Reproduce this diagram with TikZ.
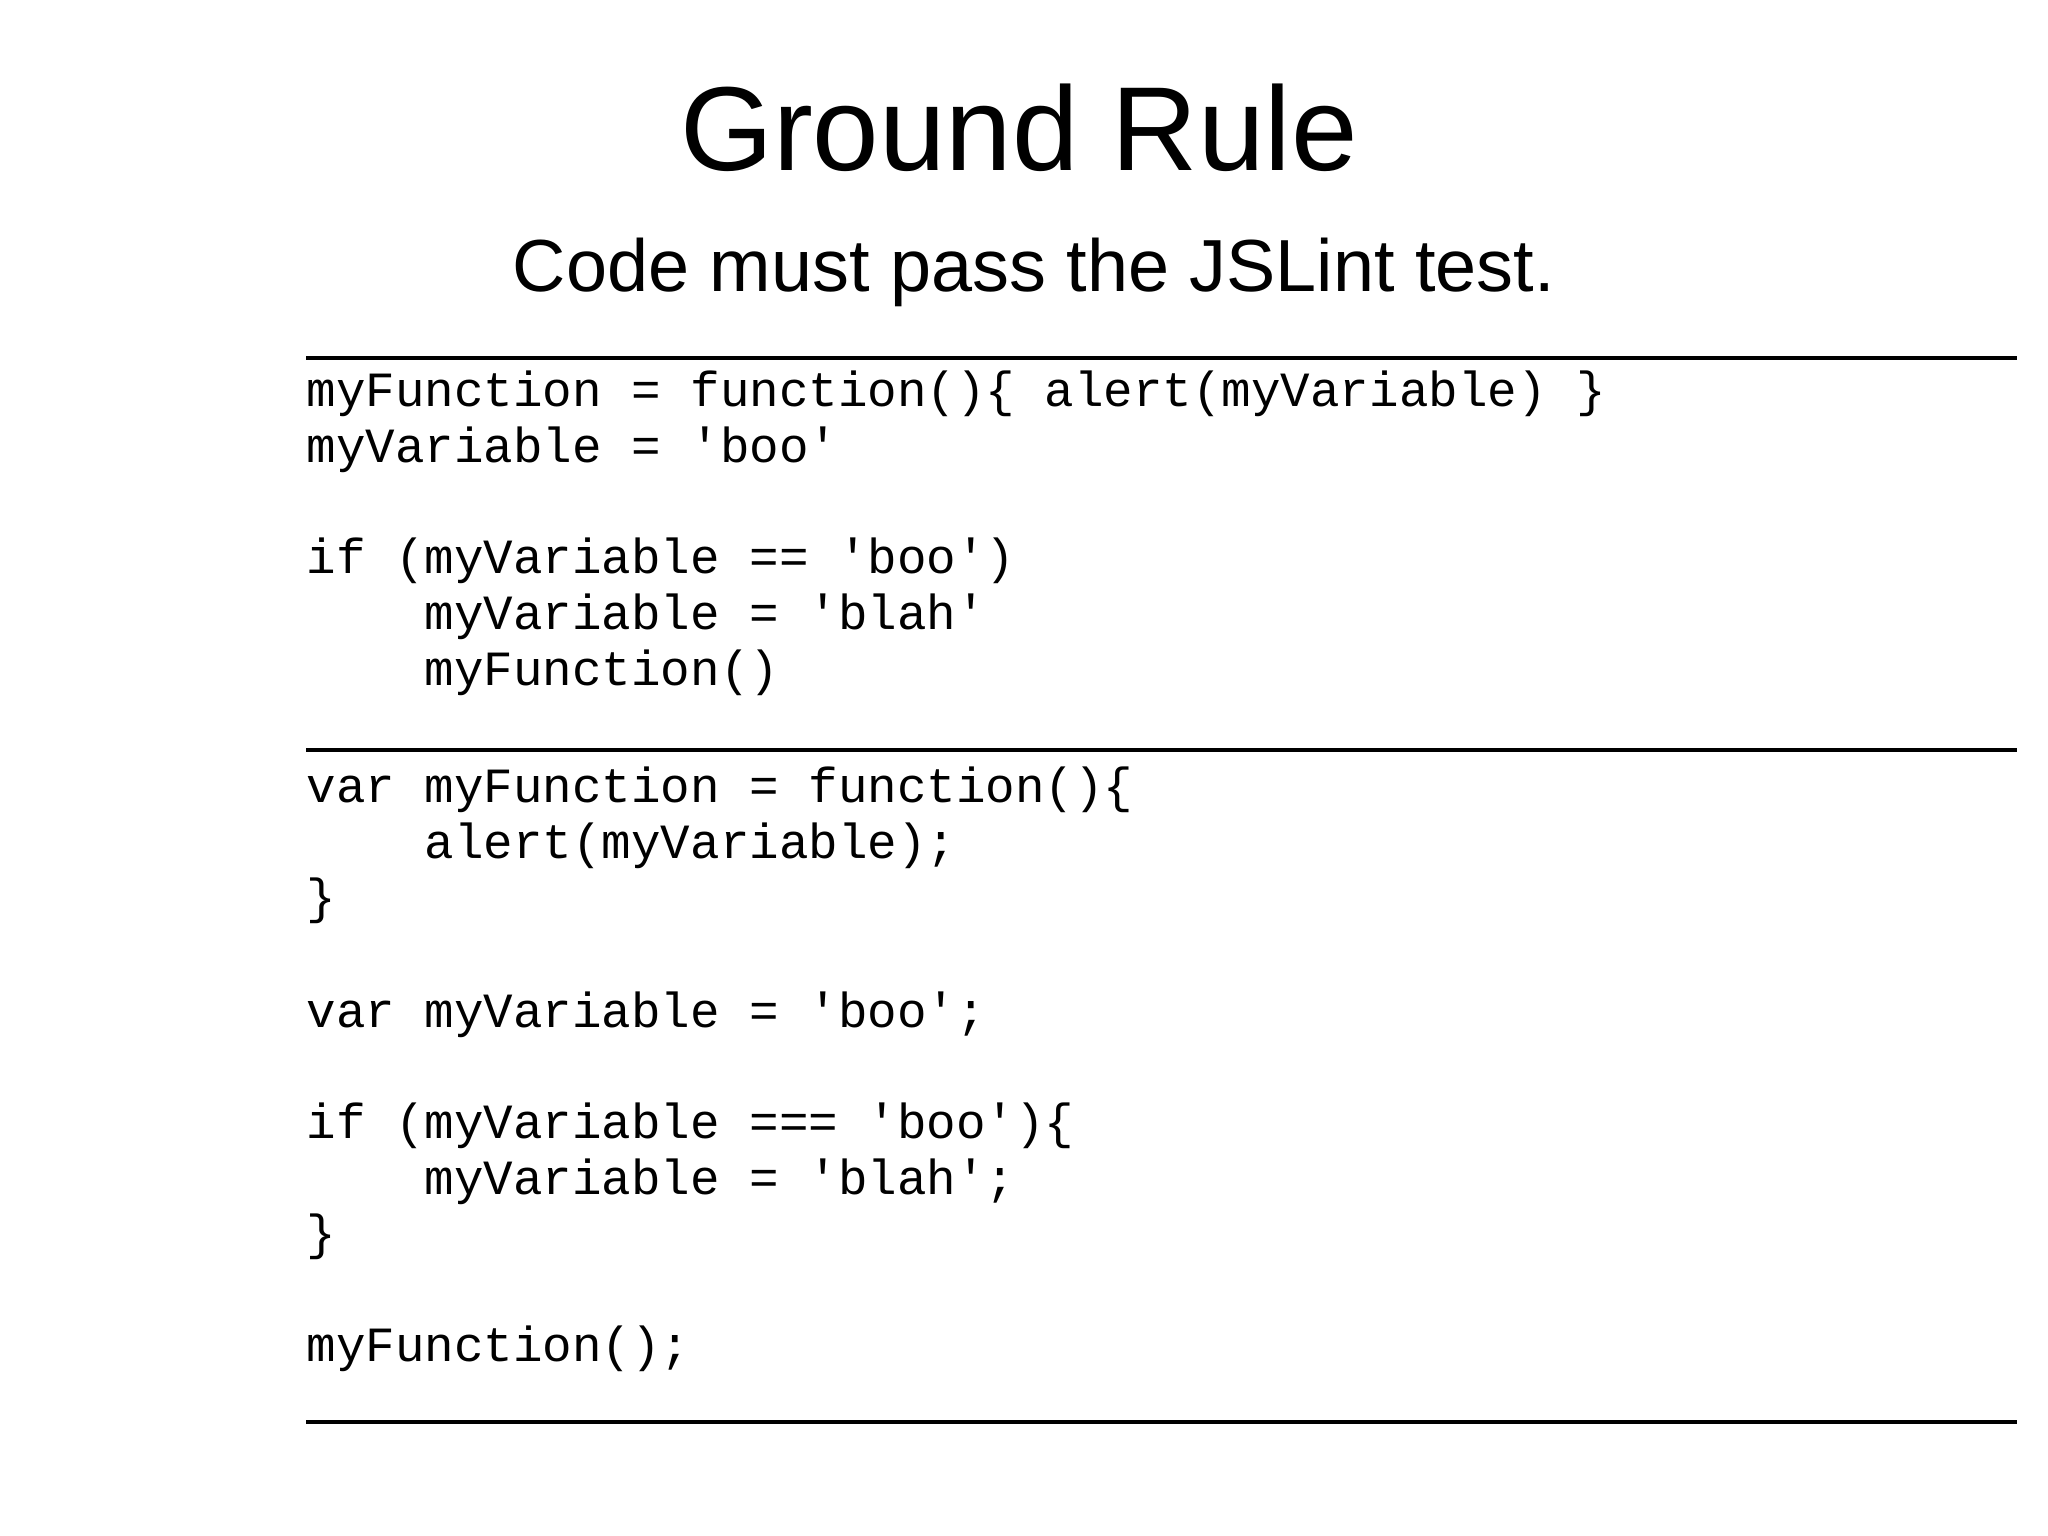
\documentclass[tikz,border=0pt]{standalone}
\usepackage{fontspec}
\setmainfont{Liberation Sans}
\newfontfamily\codefont{Liberation Mono}
\usepackage{tikz}

\tikzset{
  codeline/.style={anchor=base west, inner sep=0pt, font=\codefont\fontsize{14}{16}\selectfont},
  rule/.style={line width=1.2pt}
}
\newcommand{\ind}{\phantom{xxxx}}

\begin{document}
\begin{tikzpicture}
        \useasboundingbox (0,0) rectangle (20.48,15.36);

        \node[font=\fontsize{34}{40}\selectfont] (title) at (10.19,14.08) {Ground Rule};
        \node[font=\fontsize{21}{25}\selectfont] (subtitle) at (10.34,12.64) {Code must pass the JSLint test.};

        \coordinate (r1l) at (3.06,11.78);
        \coordinate (r1r) at (20.17,11.78);
        \coordinate (r2l) at (3.06,7.86);
        \coordinate (r2r) at (20.17,7.86);
        \coordinate (r3l) at (3.06,1.14);
        \coordinate (r3r) at (20.17,1.14);

        \draw[rule] (r1l) -- (r1r);
        \draw[rule] (r2l) -- (r2r);
        \draw[rule] (r3l) -- (r3r);

        % bad code
        \node[codeline] (bad1) at (3.06,11.29) {myFunction = function()\{ alert(myVariable) \}};
        \node[codeline] (bad2) at (3.06,10.73) {myVariable = 'boo'};
        \node[codeline] (bad3) at (3.06,9.62)  {if (myVariable == 'boo')};
        \node[codeline] (bad4) at (3.06,9.06)  {\ind myVariable = 'blah'};
        \node[codeline] (bad5) at (3.06,8.50)  {\ind myFunction()};

        % good code
        \node[codeline] (good1)  at (3.06,7.33) {var myFunction = function()\{};
        \node[codeline] (good2)  at (3.06,6.77) {\ind alert(myVariable);};
        \node[codeline] (good3)  at (3.06,6.22) {\}};
        \node[codeline] (good4)  at (3.06,5.08) {var myVariable = 'boo';};
        \node[codeline] (good5)  at (3.06,3.97) {if (myVariable === 'boo')\{};
        \node[codeline] (good6)  at (3.06,3.41) {\ind myVariable = 'blah';};
        \node[codeline] (good7)  at (3.06,2.86) {\}};
        \node[codeline] (good8)  at (3.06,1.74) {myFunction();};
    \end{tikzpicture}
\end{document}
